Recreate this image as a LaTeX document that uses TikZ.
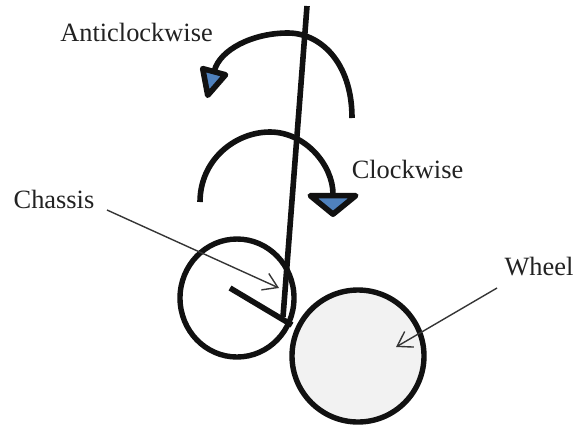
\documentclass[tikz,border=0pt]{standalone}
\usepackage{fontspec}
\setmainfont{Liberation Serif}
\usetikzlibrary{arrows.meta,shapes.geometric}
\definecolor{ink}{HTML}{111111}
\definecolor{textgray}{HTML}{222222}
\definecolor{tipblue}{HTML}{4F81BD}
\definecolor{wheelfill}{HTML}{F2F2F2}
\tikzset{
  lbl/.style={font=\fontsize{13.2pt}{15pt}\selectfont,text=textgray,inner sep=0pt,anchor=base},
  part/.style={draw=ink,line width=2.7pt,inner sep=0pt,outer sep=0pt},
  bar/.style={draw=ink,line width=2.8pt},
  turn/.style={draw=ink,line width=2.8pt},
  pointer/.style={draw=ink!85,line width=0.7pt,-{Straight Barb[length=7pt,width=9pt]}}
}
\begin{document}
\begin{tikzpicture}[x=0.5pt,y=-0.5pt]
  \useasboundingbox (0,0) rectangle (576,429);

  % labels
  \node[lbl] (anti) at (136.5,41) {Anticlockwise};
  \node[lbl] (clock) at (407.5,178) {Clockwise};
  \node[lbl] (chassislbl) at (54,208) {Chassis};
  \node[lbl] (wheellbl) at (539,275) {Wheel};

  % body
  \node[part,ellipse,minimum width=57pt,minimum height=59pt] (hub) at (237,298) {};
  \coordinate (chtop) at (307,6);
  \coordinate (chbot) at (283,317);
  \draw[bar] (chtop) -- (chbot);
  \coordinate (stubA) at (230,288);
  \coordinate (stubB) at (292,325);
  \draw[bar] (stubA) -- (stubB);
  \node[part,circle,fill=wheelfill,minimum size=66pt] (wheel) at (358,356) {};

  % rotation arrows
  \coordinate (antiS) at (352,118);
  \coordinate (antiE) at (207,98);
  \draw[turn,-{Triangle[fill=tipblue,line width=2.8pt,round,length=17pt,width=15.5pt]}]
    (antiS) .. controls (352,62) and (320,33) .. (288,33)
    .. controls (252,33) and (220,50) .. (antiE);
  \coordinate (clockS) at (200,202);
  \coordinate (clockE) at (333,217);
  \draw[turn,-{Triangle[fill=tipblue,line width=2.8pt,round,length=12.5pt,width=30pt]}]
    (clockS) .. controls (200,160) and (235,132) .. (270,132)
    .. controls (305,132) and (333,165) .. (clockE);

  % pointers
  \coordinate (chassisfrom) at (107,210);
  \coordinate (chassistip) at (279,288);
  \draw[pointer] (chassisfrom) -- (chassistip);
  \coordinate (wheelfrom) at (497,288);
  \coordinate (wheeltip) at (396,347);
  \draw[pointer] (wheelfrom) -- (wheeltip);
\end{tikzpicture}
\end{document}
